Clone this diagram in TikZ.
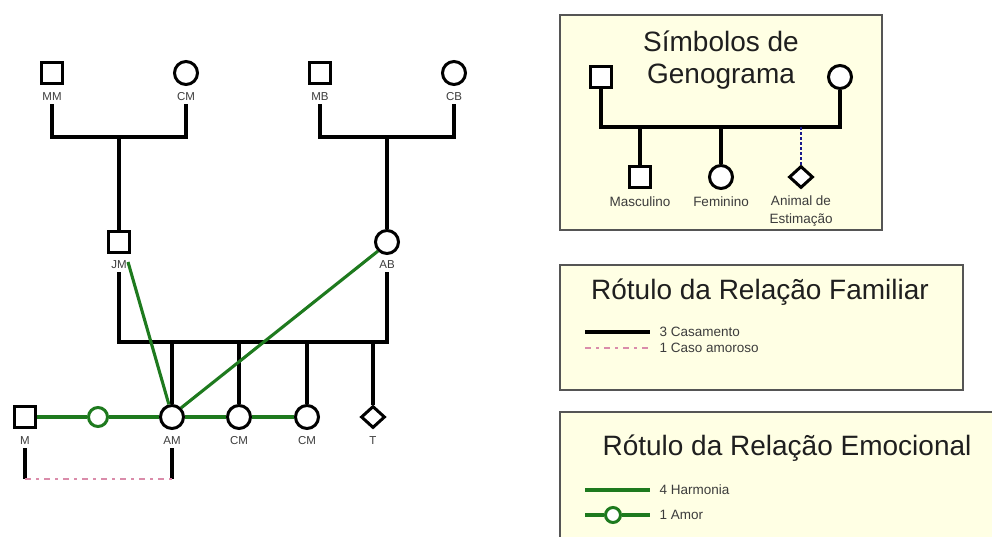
\documentclass[tikz,border=0pt]{standalone}
\usepackage{fontspec}
\setmainfont{Liberation Sans}
\usetikzlibrary{shapes.geometric}

\definecolor{harmony}{RGB}{30,122,30}
\definecolor{affair}{RGB}{218,140,170}
\definecolor{petline}{RGB}{25,25,140}
\definecolor{legendfill}{RGB}{255,255,228}
\definecolor{legendedge}{RGB}{85,85,85}
\definecolor{labelgray}{RGB}{60,60,60}

\begin{document}
\begin{tikzpicture}[x=1pt,y=-1pt,
  male/.style={draw, line width=3pt, fill=white, rectangle, minimum size=21pt, inner sep=0pt},
  female/.style={draw, line width=3pt, fill=white, circle, minimum size=23pt, inner sep=0pt},
  pet/.style={draw, line width=3pt, fill=white, diamond, minimum width=24pt, minimum height=22pt, inner sep=0pt},
  love/.style={draw=harmony, line width=3pt, fill=white, circle, minimum size=19pt, inner sep=0pt},
  tag/.style={font=\fontsize{11.5}{12}\selectfont, text=labelgray, inner sep=3pt},
  kin/.style={line width=3.1pt},
  harm/.style={draw=harmony, line width=3.1pt},
  fling/.style={draw=affair, line width=2.8pt, dash pattern=on 6pt off 5pt on 3pt off 5pt},
  legendbox/.style={draw=legendedge, line width=1.4pt, fill=legendfill, inner sep=0pt},
  legendtitle/.style={font=\fontsize{28}{32}\selectfont, text=black!88, align=center},
  legendtext/.style={font=\fontsize{13.5}{18}\selectfont, text=labelgray, align=center},
  keytext/.style={font=\fontsize{13.5}{15}\selectfont, text=labelgray, anchor=west}]

\useasboundingbox (0,0) rectangle (992,536);
\clip (0,0) rectangle (992,536);

% ---------- grandparents ----------
\node[male]   (mm) at (52,73)  {};
\node[female] (cm) at (186,73) {};
\node[male]   (mb) at (320,73) {};
\node[female] (cb) at (454,73) {};
\node[tag] (mmL) at (52,97)  {MM};
\node[tag] (cmL) at (186,97) {CM};
\node[tag] (mbL) at (320,97) {MB};
\node[tag] (cbL) at (454,97) {CB};

% ---------- parents ----------
\node[male]   (jm) at (119,242) {};
\node[female] (ab) at (387,242) {};
\node[tag] (jmL) at (119,265) {JM};
\node[tag] (abL) at (387,265) {AB};

\coordinate (wedM) at (119,137);
\coordinate (wedB) at (387,137);
\draw[kin] (mmL.south) |- (wedM) -| (cmL.south);
\draw[kin] (wedM) -- (jm.north);
\draw[kin] (mbL.south) |- (wedB) -| (cbL.south);
\draw[kin] (wedB) -- (ab.north);

% ---------- children ----------
\node[male]   (m)   at (25,417)  {};
\node[love]   (amr) at (98,417)  {};
\node[female] (am)  at (172,417) {};
\node[female] (cm1) at (239,417) {};
\node[female] (cm2) at (307,417) {};
\node[pet]    (t)   at (373,417) {};
\node[tag] (mL)   at (25,441)  {M};
\node[tag] (amL)  at (172,441) {AM};
\node[tag] (cm1L) at (239,441) {CM};
\node[tag] (cm2L) at (307,441) {CM};
\node[tag] (tL)   at (373,441) {T};

\coordinate (sib) at (0,342);
\draw[kin] (jmL.south) |- (abL.south |- sib) -- (abL.south);
\draw[kin] (am.north |- sib) -- (am.north);
\draw[kin] (cm1.north |- sib) -- (cm1.north);
\draw[kin] (cm2.north |- sib) -- (cm2.north);
\draw[kin] (t.north |- sib) -- (t.north);

% affair between M and AM
\coordinate (aff) at (0,479);
\draw[kin] (mL.south) -- (mL.south |- aff);
\draw[kin] (amL.south) -- (amL.south |- aff);
\draw[fling] (mL.south |- aff) -- (amL.south |- aff);

% emotional ties
\draw[harm] (m.east) -- (amr.west);
\draw[harm] (amr.east) -- (am.west);
\draw[harm] (am.east) -- (cm1.west);
\draw[harm] (cm1.east) -- (cm2.west);
\draw[harm] ([xshift=-3pt,yshift=-8pt]jm.south east) -- (am.104);
\draw[harm] (ab.225) -- (am.45);

% ---------- legend: symbols ----------
\node[legendbox, minimum width=322pt, minimum height=215pt] (symbox) at (721,122.5) {};
\node[legendtitle] (symtitle) at (721,60) {Símbolos de\\Genograma};
\node[male]   (ls) at (601,77)  {};
\node[female] (lc) at (840,77)  {};
\node[male]   (lm) at (640,177) {};
\node[female] (lf) at (721,177) {};
\node[pet]    (lp) at (801,177) {};
\coordinate (lcpl) at (721,127);
\draw[kin] (ls.south) |- (lcpl) -| (lc.south);
\draw[kin] (lm.north |- lcpl) -- (lm.north);
\draw[kin] (lf.north |- lcpl) -- (lf.north);
\draw[petline, line width=2.4pt, dash pattern=on 3pt off 2pt] (lp.north |- lcpl) -- (lp.north);
\node[legendtext] (lmL) at (640,202) {Masculino};
\node[legendtext] (lfL) at (721,202) {Feminino};
\node[legendtext] (lpL) at (801,211) {Animal de\\Estimação};

% ---------- legend: family relations ----------
\node[legendbox, minimum width=403pt, minimum height=125pt] (fambox) at (761.5,327.5) {};
\node[legendtitle] (famtitle) at (760,292) {Rótulo da Relação Familiar};
\coordinate (k1a) at (585,332);
\coordinate (k1b) at (650,332);
\coordinate (k2a) at (585,348);
\coordinate (k2b) at (650,348);
\draw[kin] (k1a) -- (k1b);
\draw[fling, line width=2.6pt] (k2a) -- (k2b);
\node[keytext] (k1) at (656,332) {3 Casamento};
\node[keytext] (k2) at (656,348) {1 Caso amoroso};

% ---------- legend: emotional relations ----------
\node[legendbox, minimum width=450pt, minimum height=140pt] (emobox) at (785,482) {};
\node[legendtitle] (emotitle) at (787,448) {Rótulo da Relação Emocional};
\coordinate (k3a) at (585,490);
\coordinate (k3b) at (650,490);
\coordinate (k4a) at (585,515);
\coordinate (k4b) at (650,515);
\node[love, minimum size=15pt] (k4c) at (613,515) {};
\draw[harm] (k3a) -- (k3b);
\draw[harm] (k4a) -- (k4c.west);
\draw[harm] (k4c.east) -- (k4b);
\node[keytext] (k3) at (656,490) {4 Harmonia};
\node[keytext] (k4) at (656,515) {1 Amor};
\end{tikzpicture}
\end{document}
